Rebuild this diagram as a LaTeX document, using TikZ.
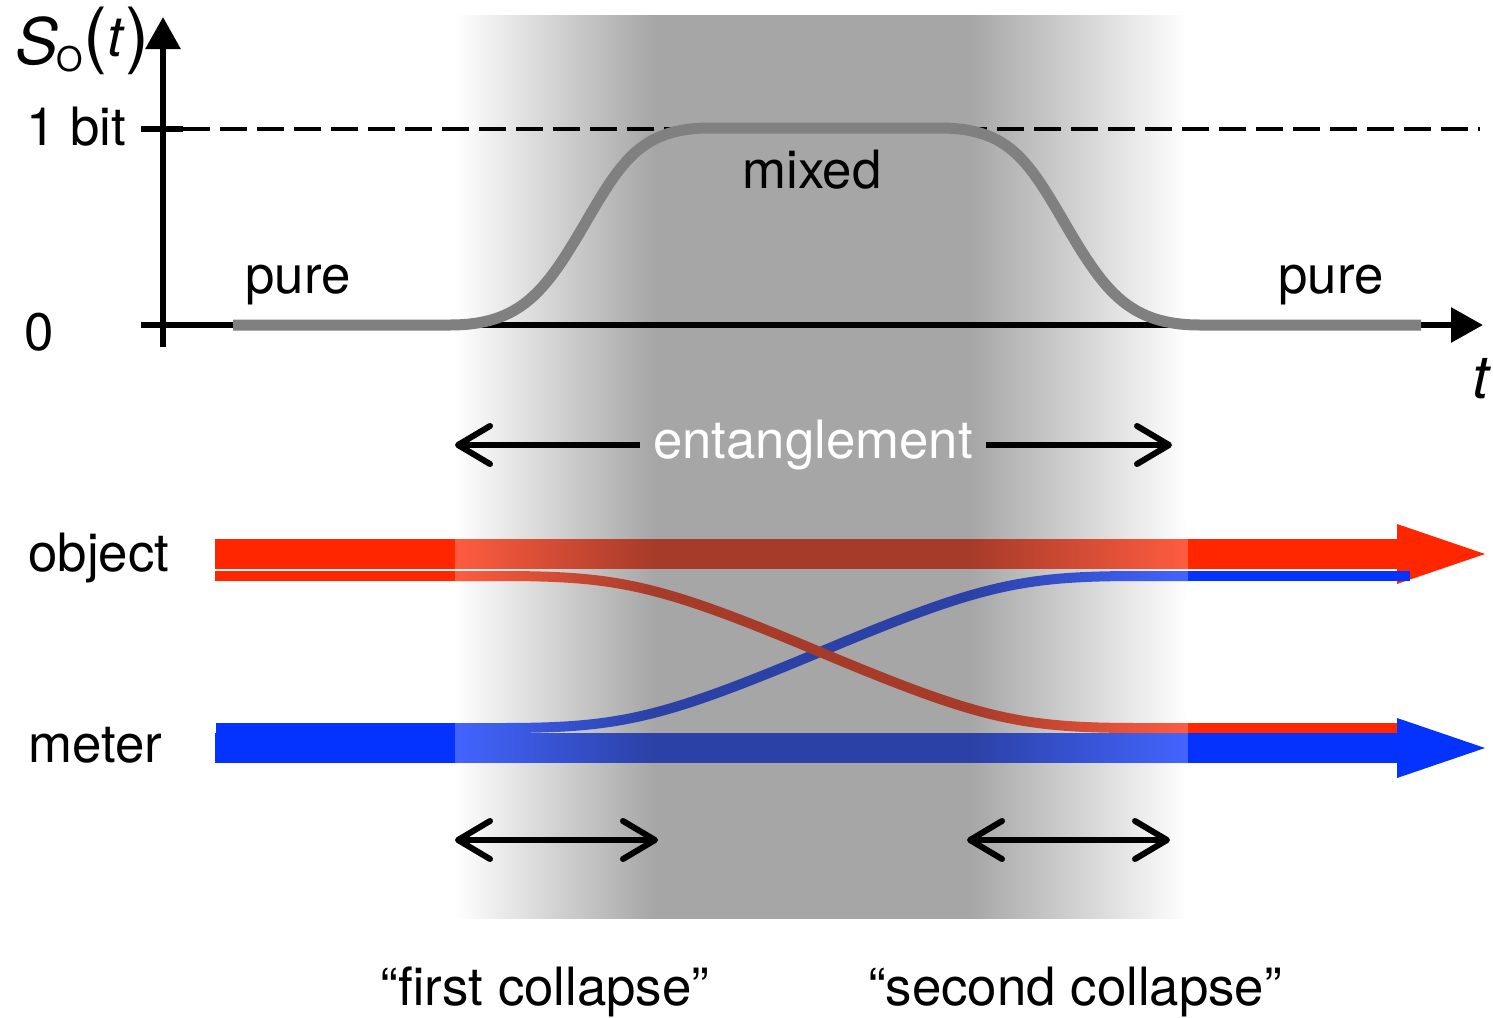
\documentclass[tikz,border=0pt]{standalone}
\usepackage{fontspec}
\setmainfont{TeX Gyre Heros}
\usetikzlibrary{arrows.meta}
\definecolor{objred}{RGB}{255,38,0}
\definecolor{metblue}{RGB}{4,50,255}
\definecolor{shadegray}{RGB}{166,166,166}
\definecolor{curvegray}{RGB}{128,128,128}
\pgfdeclarehorizontalshading{entshade}{100bp}{color(0bp)=(white); color(25bp)=(white); color(38.6bp)=(shadegray); color(60.1bp)=(shadegray); color(75bp)=(white); color(100bp)=(white)}
\tikzstyle{lbl}=[inner sep=0pt, font=\fontsize{26.4}{31}\selectfont]
\tikzstyle{axis}=[line width=3pt, -{Triangle[length=16pt,width=17pt]}]
\tikzstyle{oneway}=[line width=3pt, -{Straight Barb[length=16pt,width=19pt,round]}]
\tikzstyle{twoway}=[line width=3pt, {Straight Barb[length=16pt,width=19pt,round]}-{Straight Barb[length=16pt,width=19pt,round]}]
\tikzstyle{thin}=[line width=5pt]

\begin{document}
\begin{tikzpicture}[x=0.5pt, y=-0.5pt]
\useasboundingbox (0,0) rectangle (1493,1017);
% Balken
\fill[objred] (215,539) rectangle (1397,569);
\fill[objred] (1397,524) -- (1485,554) -- (1397,584) -- cycle;
\fill[metblue] (215,733) rectangle (1397,763);
\fill[metblue] (1397,718) -- (1485,748) -- (1397,778) -- cycle;
\fill[objred] (215,571) rectangle (455,581);
\fill[objred] (1188,723) rectangle (1397,733);
\fill[metblue] (216,723) rectangle (455,732.5);
\fill[metblue] (1188,571) rectangle (1410,581);
% Verschraenkung
\fill[objred!75!white] (455,539) rectangle (1188,569);
\fill[metblue!75!white] (455,733) rectangle (1188,763);
\draw[thin, metblue!75!white] (455,728) -- (500,728) .. controls (620,728) and (660,719) .. (820,652) .. controls (980,585) and (1020,576) .. (1140,576) -- (1188,576);
\draw[thin, objred!75!white] (455,576) -- (500,576) .. controls (620,576) and (660,585) .. (820,652) .. controls (980,719) and (1020,728) .. (1140,728) -- (1188,728);
\begin{scope}[blend mode=multiply]
\shade[shading=entshade] (455,15) rectangle (1188,918);
\end{scope}
% Achsen
\coordinate (ybot) at (163,347);
\coordinate (ytop) at (163,17);
\coordinate (xleft) at (141,325);
\coordinate (xright) at (1483,325);
\coordinate (tickL) at (141,129);
\coordinate (tickR) at (183,129);
\coordinate (dashR) at (1480,129);
\draw[axis] (ybot) -- (ytop);
\draw[axis] (xleft) -- (xright);
\draw[line width=3pt] (tickL) -- (tickR);
\draw[line width=2pt, dash pattern=on 13.5pt off 5pt] (tickR) -- (dashR);
\draw[line width=5.5pt, curvegray] (233,325) -- (450,325) .. controls (520,325) and (545,292) .. (583,227) .. controls (621,162) and (640,128) .. (710,128) -- (940,128) .. controls (1010,128) and (1029,162) .. (1067,227) .. controls (1105,292) and (1130,325) .. (1200,325) -- (1421,325);
\node[inner sep=0pt, anchor=base west] (ylab) at (15,64) {\fontsize{32}{36}\selectfont\itshape S\upshape\kern-1pt\raisebox{-3.5pt}{\fontsize{17}{17}\selectfont O}\hspace{0.5pt}\raisebox{2.5pt}{\fontsize{36}{40}\selectfont(}\raisebox{4pt}{\fontsize{28}{28}\selectfont\itshape t}\hspace{1pt}\raisebox{2.5pt}{\fontsize{36}{40}\selectfont)}};
\node[lbl, anchor=base] (bit) at (76,145) {1 bit};
\node[lbl, anchor=base] (zero) at (39,350) {0};
\node[lbl, anchor=base west] (pureL) at (245,293) {pure};
\node[lbl, anchor=base west] (pureR) at (1278,293) {pure};
\node[lbl, anchor=base] (mixed) at (812,188) {mixed};
\node[inner sep=0pt, anchor=base, font=\fontsize{30}{34}\selectfont\itshape] (tlab) at (1481,398) {t};
% Beschriftung
\node[lbl, white, inner xsep=6.5pt] (ent) at (813,445) {entanglement};
\coordinate (entL) at (455,445);
\coordinate (entR) at (1172,445);
\draw[oneway] (ent) -- (entL);
\draw[oneway] (ent) -- (entR);
\node[lbl, anchor=base west] (object) at (28,571) {object};
\node[lbl, anchor=base west] (meter) at (28,762) {meter};
\coordinate (c1a) at (455,840);
\coordinate (c1b) at (658,840);
\coordinate (c2a) at (967,840);
\coordinate (c2b) at (1170,840);
\draw[twoway] (c1a) -- (c1b);
\draw[twoway] (c2a) -- (c2b);
\node[lbl, anchor=base] (first) at (545,1005) {“first collapse”};
\node[lbl, anchor=base] (second) at (1075,1005) {“second collapse”};
\end{tikzpicture}
\end{document}
